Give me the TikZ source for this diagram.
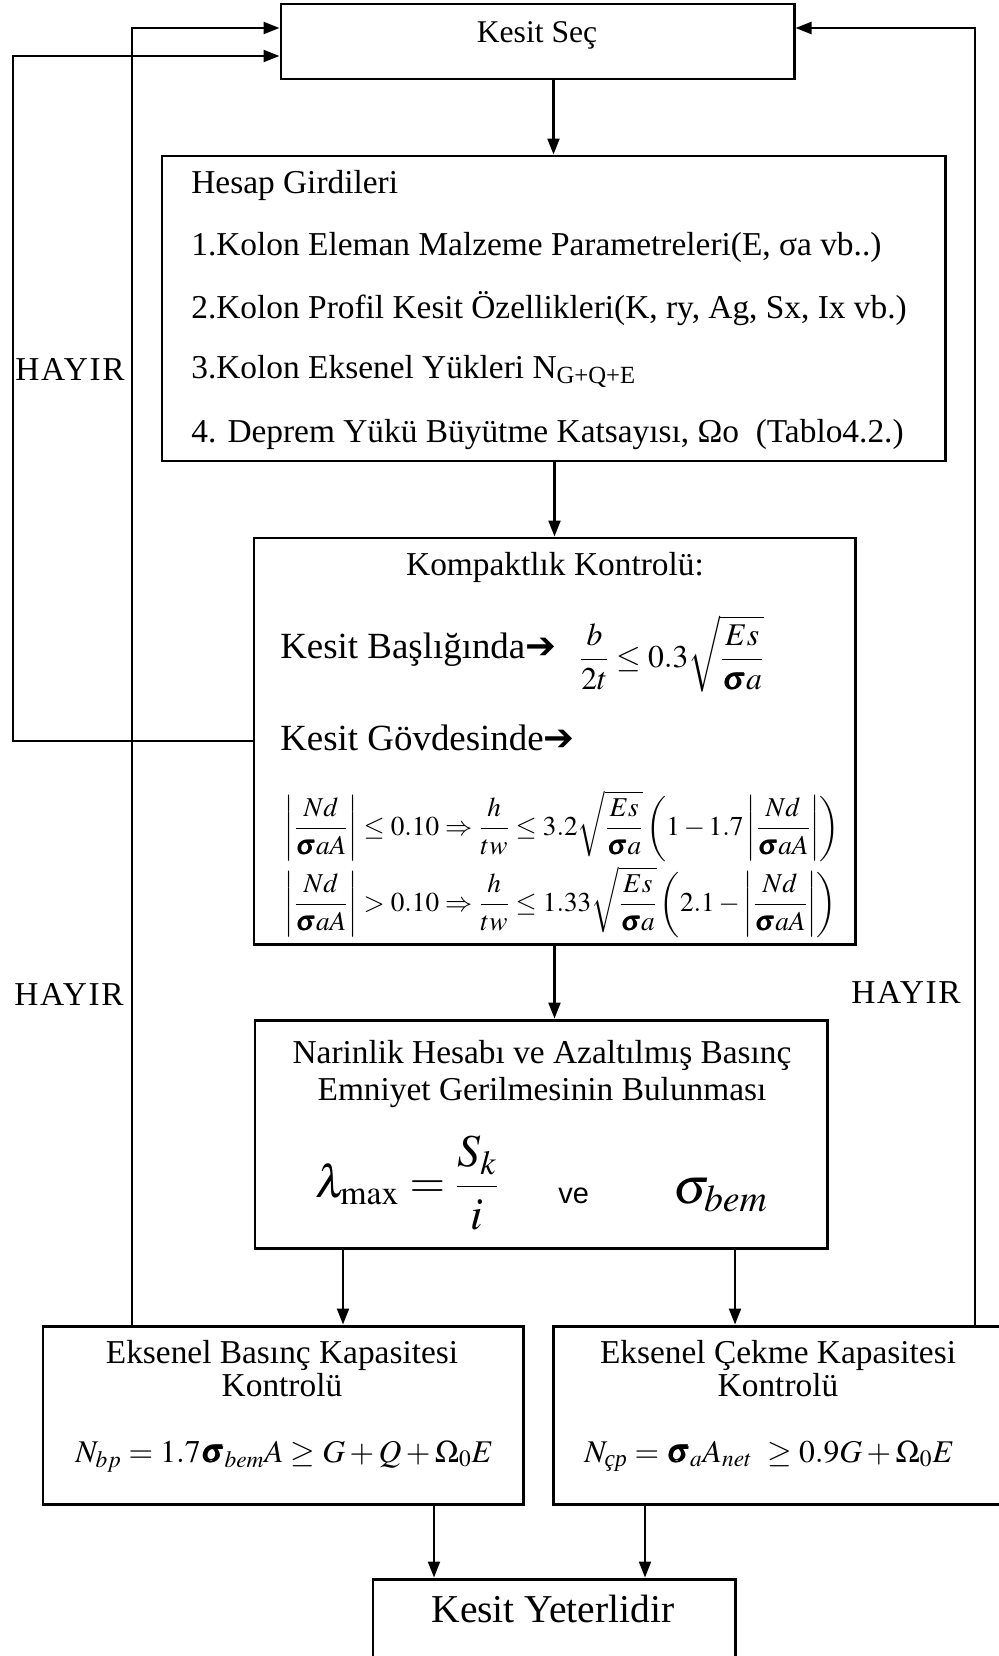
\documentclass[tikz,border=0pt]{standalone}
\usepackage{amsmath}
\usepackage{mathptmx}
\usepackage{bm}
\usepackage{fontspec}
\setmainfont{Liberation Serif}
\setsansfont{Liberation Sans}
\newfontfamily\arrowfont{DejaVu Sans}
\newfontfamily\hayirfont{Liberation Serif}[LetterSpace=5]
\usetikzlibrary{positioning, arrows.meta, calc}

\newcommand{\fs}[1]{\fontsize{#1}{1.2\dimexpr #1pt\relax}\selectfont}
\newcommand{\heavyarrow}{{\arrowfont\char"2794}}

\begin{document}
\begin{tikzpicture}[
    x=0.02cm, y=-0.02cm,
    % ── node styles ─────────────────────────────────────────
    box/.style = { draw, line width=1.7pt, inner sep=0pt, },
    txt/.style = { inner sep=0pt, font=\fs{19}, },
    hayir/.style = { inner sep=0pt, font=\hayirfont\fs{19}, anchor=base, },
    flow/.style = { line width=1.2pt, -{Triangle[length=0.32cm, width=0.24cm]}, },
    feed/.style = { line width=1.3pt, -{Triangle[length=0.32cm, width=0.24cm]}, },
    ]
    \useasboundingbox (0,0) rectangle (999,1656);

    % ============================================================
    % BOXES
    % ============================================================
    \node[box, minimum width=513*0.02cm, minimum height=75*0.02cm]
    (kesitsec) at (537.5,41.5) {};
    \node[box, minimum width=783*0.02cm, minimum height=305*0.02cm]
    (hesap) at (553.5,308.5) {};
    \node[box, minimum width=601*0.02cm, minimum height=406*0.02cm]
    (kompakt) at (554.5,741) {};
    \node[box, minimum width=572*0.02cm, minimum height=228*0.02cm]
    (narin) at (541,1134) {};
    \node[box, minimum width=480*0.02cm, minimum height=178*0.02cm]
    (basinc) at (283,1415) {};
    \node[box, minimum width=447*0.02cm, minimum height=178*0.02cm]
    (cekme) at (776.5,1415) {};
    \node[box, minimum width=362*0.02cm, minimum height=90*0.02cm]
    (yeterli) at (554,1624) {};

    % ============================================================
    % TEXTS
    % ============================================================
    \node[txt, font=\fs{18}, anchor=base] (kesitsec-text) at (537,43) {Kesit Seç};

    \node[txt, anchor=base west] (hesap-title) at (191,193) {Hesap Girdileri};
    \node[txt, anchor=base west] (hesap-1) at (191,255)
    {1.Kolon Eleman Malzeme Parametreleri(E, σa vb..)};
    \node[txt, anchor=base west] (hesap-2) at (191,318)
    {2.Kolon Profil Kesit Özellikleri(K, ry, Ag, Sx, Ix vb.)};
    \node[txt, anchor=base west] (hesap-3) at (191,378)
    {3.Kolon Eksenel Yükleri N\textsubscript{G+Q+E}};
    \node[txt, anchor=base west] (hesap-4) at (191,442)
    {4. Deprem Yükü Büyütme Katsayısı, Ωo~ (Tablo4.2.)};

    \node[txt, anchor=base] (kompakt-title) at (555,575) {Kompaktlık Kontrolü:};
    \node[txt, font=\fs{21}, anchor=base west] (baslik) at (280,658)
    {Kesit Başlığında\heavyarrow};
    \node[txt, font=\fs{18}, anchor=west] (baslik-eq) at (579,654)
    {$\displaystyle \frac{b}{2t}\le 0.3\sqrt{\frac{Es}{\bm{\sigma} a}}$};
    \node[txt, font=\fs{21}, anchor=base west] (govde) at (280,750)
    {Kesit Gövdesinde\heavyarrow};
    \node[txt, font=\fs{15.5}, anchor=west] (govde-eq1) at (284,826)
    {$\displaystyle \left|\frac{Nd}{\bm{\sigma} aA}\right|\le 0.10\Rightarrow
        \frac{h}{tw}\le 3.2\sqrt{\frac{Es}{\bm{\sigma} a}}
        \left(1-1.7\left|\frac{Nd}{\bm{\sigma} aA}\right|\right)$};
    \node[txt, font=\fs{15.5}, anchor=west] (govde-eq2) at (284,902)
    {$\displaystyle \left|\frac{Nd}{\bm{\sigma} aA}\right|> 0.10\Rightarrow
        \frac{h}{tw}\le 1.33\sqrt{\frac{Es}{\bm{\sigma} a}}
        \left(2.1-\left|\frac{Nd}{\bm{\sigma} aA}\right|\right)$};

    \node[txt, anchor=base] (narin-title1) at (542,1063)
    {Narinlik Hesabı ve Azaltılmış Basınç};
    \node[txt, anchor=base] (narin-title2) at (542,1100)
    {Emniyet Gerilmesinin Bulunması};
    \node[txt, font=\fs{26}, anchor=west] (narin-eq) at (315,1183)
    {$\displaystyle \lambda_{\max}=\frac{S_k}{i}$};
    \node[txt, font=\sffamily\fs{16.5}, anchor=base west] (narin-ve) at (558,1203) {ve};
    \node[txt, font=\fs{29}, anchor=base west] (narin-sigma) at (673,1203)
    {$\sigma_{bem}$};

    \node[txt, anchor=base] (basinc-title1) at (282,1363) {Eksenel Basınç Kapasitesi};
    \node[txt, anchor=base] (basinc-title2) at (282,1396) {Kontrolü};
    \node[txt, font=\fs{18}, anchor=base west] (basinc-eq) at (75,1462)
    {$N_{bp}=1.7\bm{\sigma}_{bem}A\ge G+Q+\Omega_0E$};

    \node[txt, anchor=base] (cekme-title1) at (778,1363) {Eksenel Çekme Kapasitesi};
    \node[txt, anchor=base] (cekme-title2) at (778,1396) {Kontrolü};
    \node[txt, font=\fs{18}, anchor=base west] (cekme-eq) at (584,1462)
    {$N_{\textit{çp}}=\bm{\sigma}_aA_{net}\ \ge 0.9G+\Omega_0E$};

    \node[txt, font=\fs{22.5}, anchor=base] (yeterli-text) at (553,1622) {Kesit Yeterlidir};

    \node[hayir] (hayir-1) at (70,380) {HAYIR};
    \node[hayir] (hayir-2) at (69,1005) {HAYIR};
    \node[hayir] (hayir-3) at (906,1003) {HAYIR};

    % ============================================================
    % FLOW ARROWS
    % ============================================================
    \draw[flow] (hesap.north |- kesitsec.south) -- (hesap.north);
    \draw[flow] (kompakt.north |- hesap.south) -- (kompakt.north);
    \draw[flow] (kompakt.south) -- (kompakt.south |- narin.north);
    \draw[flow] (narin.south -| 343,0) -- (basinc.north -| 343,0);
    \draw[flow] (narin.south -| 735,0) -- (cekme.north -| 735,0);
    \draw[flow] (basinc.south -| 434,0) -- (yeterli.north -| 434,0);
    \draw[flow] (cekme.south -| 645,0) -- (yeterli.north -| 645,0);

    % ============================================================
    % FEEDBACK (HAYIR) LINES
    % ============================================================
    \coordinate (leftin) at (132,28);
    \coordinate (leftout) at (13,56);
    \coordinate (rightin) at (975,28);

    \draw[feed] (leftin |- basinc.north) -- (leftin) -- (kesitsec.west |- leftin);
    \draw[feed] (kompakt.west) -| (leftout) -- (kesitsec.west |- leftout);
    \draw[feed] (rightin |- cekme.north) -- (rightin) -- (kesitsec.east |- rightin);

\end{tikzpicture}
\end{document}
